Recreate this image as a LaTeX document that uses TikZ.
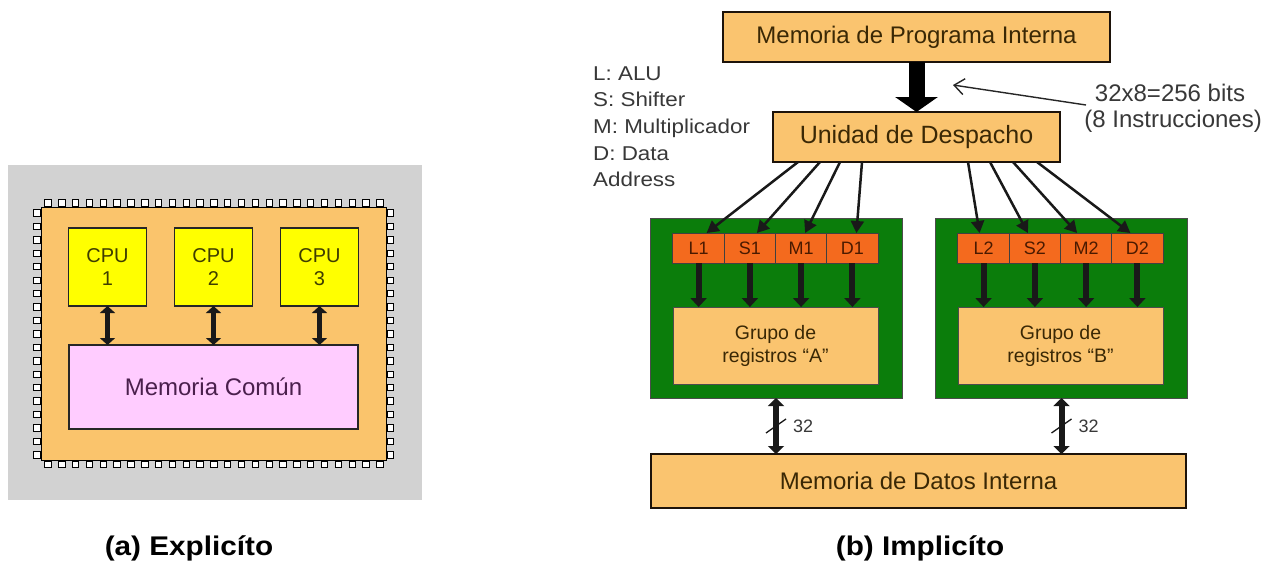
\documentclass[tikz,border=0pt]{standalone}
\usepackage{fontspec}
\setmainfont{Liberation Sans}
\newfontfamily\widefont[FakeStretch=1.12]{Liberation Sans}
\newfontfamily\capfont[FakeStretch=1.1]{Liberation Sans}
\usetikzlibrary{arrows.meta}

\definecolor{bgray}{HTML}{D2D2D2}
\definecolor{chipfill}{HTML}{FAC46C}
\definecolor{cpufill}{HTML}{FFFF00}
\definecolor{cputext}{HTML}{3F3D00}
\definecolor{memfill}{HTML}{FFCCFF}
\definecolor{memtext}{HTML}{4A1F4C}
\definecolor{boxfill}{HTML}{FAC46F}
\definecolor{boxtext}{HTML}{3A2805}
\definecolor{unitfill}{HTML}{F46A1E}
\definecolor{unittext}{HTML}{4A1A00}
\definecolor{grnfill}{HTML}{0B7D0B}
\definecolor{legtext}{HTML}{383838}

\newcommand\fsz[2]{\fontsize{#1}{#2}\selectfont}

\tikzset{
  chipbody/.style={draw=black, line width=1pt, fill=chipfill},
  pinbox/.style={draw=black, line width=1pt, fill=white},
  cpubox/.style={draw=black!85, line width=1.2pt, fill=cpufill, inner sep=0pt, outer sep=0pt,
    minimum width=78pt, minimum height=78pt, align=center, text=cputext, font=\fsz{20}{23}},
  membox/.style={draw=black!85, line width=1.2pt, fill=memfill, inner sep=0pt, outer sep=0pt,
    text=memtext, font=\fsz{24}{28}},
  obox/.style={draw=black!85!brown, line width=1.4pt, fill=boxfill, inner sep=0pt, outer sep=0pt,
    text=boxtext, font=\fsz{24}{28}},
  grpbox/.style={draw=black!70, line width=1pt, fill=boxfill, inner sep=0pt, outer sep=0pt,
    minimum width=205pt, minimum height=77pt, align=center, text=boxtext, font=\fsz{19.5}{23}},
  grnbox/.style={draw=black!70, line width=1pt, fill=grnfill, inner sep=0pt, outer sep=0pt,
    minimum width=252pt, minimum height=180pt},
  unitbox/.style={draw=black!75, line width=1pt, fill=unitfill, inner sep=0pt, outer sep=0pt,
    minimum width=51.25pt, minimum height=30pt, text=unittext, font=\fsz{18}{20}},
  legtxt/.style={anchor=base west, inner sep=0pt, text=legtext, font=\widefont\fsz{20}{24}},
  lbltxt/.style={inner sep=0pt, text=legtext, font=\fsz{24}{28}},
  captxt/.style={inner sep=0pt, text=black, font=\capfont\fsz{27}{30}\bfseries},
  dblarrow/.style={draw=black!90, line width=5.5pt,
    {Triangle[width=15pt,length=7pt]}-{Triangle[width=15pt,length=7pt]}},
  busarrow/.style={draw=black!90, line width=6pt,
    {Triangle[width=16pt,length=8pt]}-{Triangle[width=16pt,length=8pt]}},
  fatarrow/.style={draw=black, line width=16pt, -{Triangle[width=42pt,length=15pt]}},
  thkarrow/.style={draw=black!90, line width=6pt, -{Triangle[width=16pt,length=9pt]}},
  disparrow/.style={draw=black!90, line width=2.5pt, -{Triangle[width=13pt,length=12pt]}},
  ptrarrow/.style={draw=black!85, line width=1.4pt, -{Straight Barb[width=16pt,length=10pt]}},
  slashmark/.style={draw=black!90, line width=1.3pt},
  bustxt/.style={anchor=west, inner sep=0pt, text=legtext, font=\fsz{18}{20}}
}

\begin{document}
\begin{tikzpicture}[x=1pt, y=-1pt]
\useasboundingbox (0,0) rectangle (1274,565);
\fill[white] (0,0) rectangle (1274,565);

% ---------------- (a) explicit parallelism: multi-core chip ----------------
\fill[bgray] (8,165) rectangle (422,500);

% package pins on the four sides
\foreach \i in {0,...,24} {
  \draw[pinbox] ({44.8+\i*13.83},199.5) rectangle ++(6.4,6.5);
  \draw[pinbox] ({44.8+\i*13.83},461) rectangle ++(6.4,6.5);
}
\foreach \i in {0,...,18} {
  \draw[pinbox] (33.5,{209.8+\i*13.44}) rectangle ++(6.5,6.4);
  \draw[pinbox] (387,{209.8+\i*13.44}) rectangle ++(6.5,6.4);
}
\draw[chipbody] (41,207) rectangle (386,460);

\node[cpubox] (cpu1) at (107.5,267) {CPU\\1};
\node[cpubox] (cpu2) at (213.5,267) {CPU\\2};
\node[cpubox] (cpu3) at (319.5,267) {CPU\\3};
\node[membox, minimum width=289pt, minimum height=84pt] (mem) at (213.5,387) {Memoria Común};

\foreach \c in {cpu1,cpu2,cpu3}
  \draw[dblarrow] (\c.south) -- (\c.south |- mem.north);

\node[captxt] (capa) at (189,548) {(a) Explicíto};

% ---------------- (b) implicit parallelism: VLIW datapath ----------------
\node[obox, minimum width=387pt, minimum height=50pt] (mpi) at (916.5,37) {Memoria de Programa Interna};
\node[obox, minimum width=287pt, minimum height=50pt, font=\fsz{25}{28}] (und) at (916.5,137) {Unidad de Despacho};
\draw[fatarrow] (mpi.south) -- (mpi.south |- und.north);

% unit legend
\node[legtxt] (leg1) at (593,80) {L: ALU};
\node[legtxt] (leg2) at (593,106.7) {S: Shifter};
\node[legtxt] (leg3) at (593,133.4) {M: Multiplicador};
\node[legtxt] (leg4) at (593,160.1) {D: Data};
\node[legtxt] (leg5) at (593,186.8) {Address};

% instruction word width
\node[lbltxt, anchor=base] (bits) at (1170,101) {32x8=256 bits};
\node[lbltxt, anchor=base east] (instr) at (1262,127) {(8 Instrucciones)};
\coordinate (ptrfrom) at (1086,105);
\coordinate (ptrto) at (953,85);
\draw[ptrarrow] (ptrfrom) -- (ptrto);

% data paths A and B
\node[grnbox] (grnA) at (776,308) {};
\node[grnbox] (grnB) at (1061.5,308) {};

\foreach \u/\x in {L1/698.6, S1/749.9, M1/801.1, D1/852.4,
                   L2/983.6, S2/1034.9, M2/1086.1, D2/1137.4}
  \node[unitbox] (\u) at (\x,248) {\u};

\node[grpbox] (grpA) at (775.5,345.5) {Grupo de\\registros “A”};
\node[grpbox] (grpB) at (1060.5,345.5) {Grupo de\\registros “B”};

\foreach \u in {L1,S1,M1,D1}
  \draw[thkarrow] (\u.south) -- (\u.south |- grpA.north);
\foreach \u in {L2,S2,M2,D2}
  \draw[thkarrow] (\u.south) -- (\u.south |- grpB.north);

% dispatch of the eight instructions
\foreach \u/\dx/\ex in {L1/-118.5/8, S1/-96.5/7, M1/-76.5/4, D1/-54.5/4,
                        L2/51.5/-4, S2/73.5/-7, M2/96.5/-9, D2/120.5/-7}
  \draw[disparrow] ([xshift=\dx pt]und.south) -- ([xshift=\ex pt]\u.north);

% data memory and 32-bit buses
\node[obox, minimum width=535pt, minimum height=54pt] (mdi) at (918.5,481) {Memoria de Datos Interna};

\draw[busarrow] (grnA.south) -- (grnA.south |- mdi.north)
  coordinate[pos=0.5] (busA);
\draw[busarrow] (grnB.south) -- (grnB.south |- mdi.north)
  coordinate[pos=0.5] (busB);
\draw[slashmark] ([shift={(-10,7)}]busA) -- ([shift={(10,-7)}]busA);
\draw[slashmark] ([shift={(-10,7)}]busB) -- ([shift={(10,-7)}]busB);
\node[bustxt] (wA) at ([xshift=17pt]busA) {32};
\node[bustxt] (wB) at ([xshift=17pt]busB) {32};

\node[captxt] (capb) at (920,548) {(b) Implicíto};
\end{tikzpicture}
\end{document}
